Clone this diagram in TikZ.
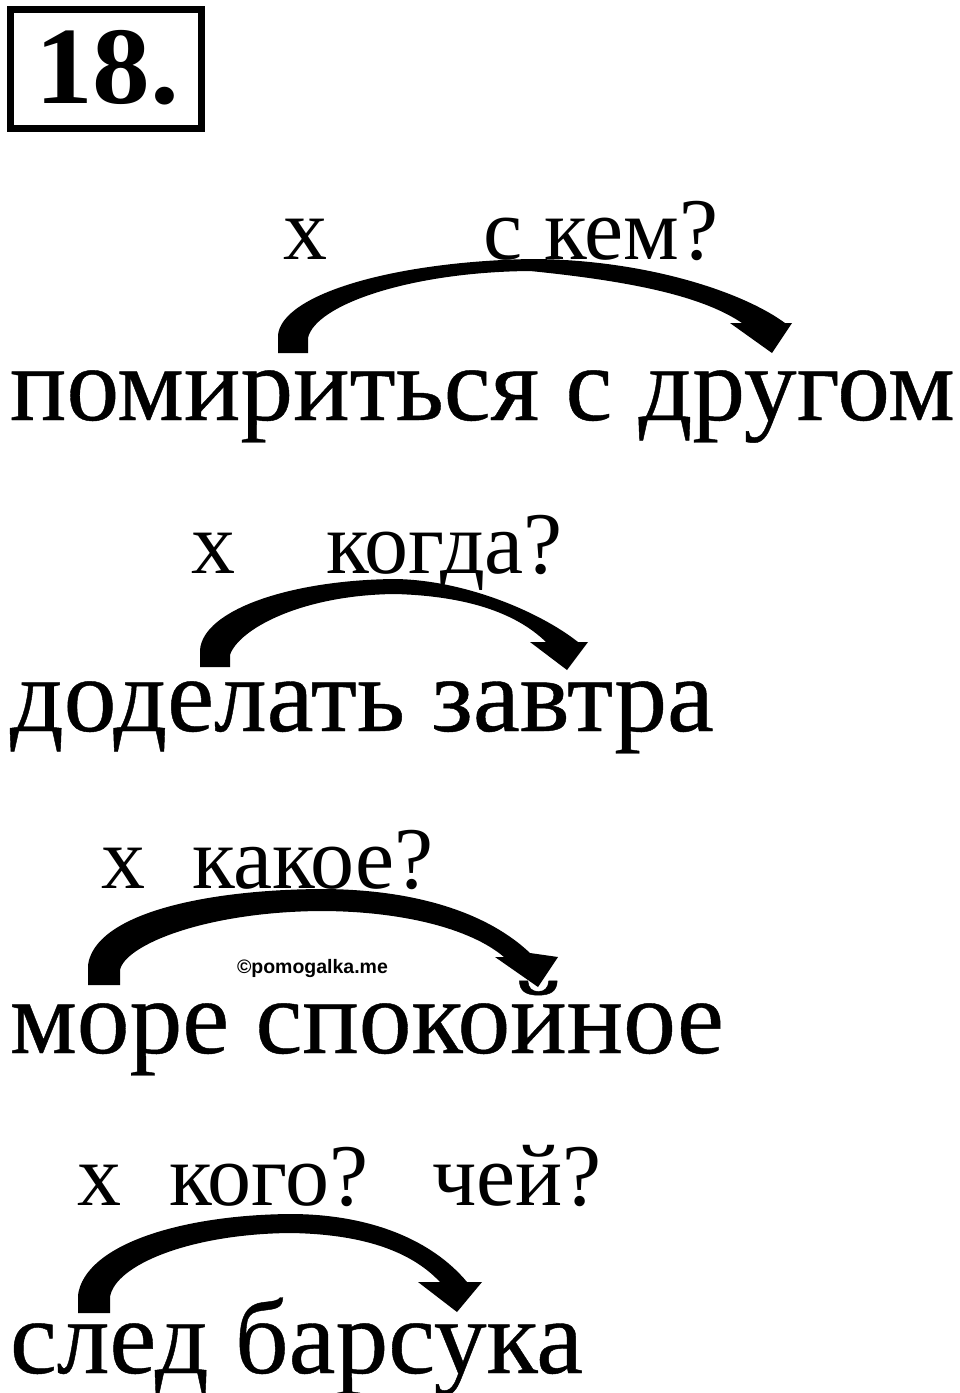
\documentclass[tikz,border=0pt]{standalone}
\usepackage{fontspec}
\setmainfont{Liberation Serif}
\newfontfamily\mainfnt[FakeBold=0.4]{Liberation Serif}
\newfontfamily\numfnt[FakeStretch=1.05]{Liberation Serif}
\newfontfamily\wmfont{Liberation Sans}
\tikzset{
  word/.style={inner sep=0pt, outer sep=0pt, anchor=base west, text height=60pt, font=\mainfnt\fontsize{105.5}{110}\selectfont},
  qlabel/.style={inner sep=0pt, outer sep=0pt, anchor=base west, font=\fontsize{88}{92}\selectfont},
  numlabel/.style={inner sep=0pt, outer sep=0pt, anchor=base west, font=\numfnt\fontsize{110}{112}\selectfont\bfseries},
  wmark/.style={inner sep=0pt, outer sep=0pt, anchor=base west, font=\wmfont\fontsize{19.5}{20}\selectfont\bfseries},
  swoosh/.style={fill=black, draw=none},
  framebox/.style={draw=black, line width=7pt}
}
\begin{document}
\begin{tikzpicture}[x=1pt,y=-1pt]
\useasboundingbox (0,0) rectangle (960,1393);
% number in a frame
\draw[framebox] (10.5,9.5) rectangle (201.5,128.5);
\node[numlabel] (num) at (35,103) {18.};
% ---------- line 1
\node[qlabel] (x1) at (283,259) {х};
\node[qlabel] (q1) at (483,259) {с кем?};
\node[word] (w1) at (10,420) {помириться с другом};
\coordinate (s1) at (293,353);
\coordinate (e1) at (772,353);
\fill[swoosh] (278,353) -- (278,335) .. controls (282,295) and (390,262) .. (530,259)
  .. controls (640,259) and (740,290) .. (785,323) -- (792,323) -- (e1) -- (730,323) -- (742,323)
  .. controls (705,298) and (640,282) .. (530,271)
  .. controls (410,272) and (315,305) .. (308,338) -- (308,353) -- cycle;
% ---------- line 2
\node[qlabel] (x2) at (191,573) {х};
\node[qlabel] (q2) at (326,573) {когда?};
\node[word] (w2) at (10,731) {доделать завтра};
\coordinate (s2) at (215,667);
\coordinate (e2) at (567,670);
\fill[swoosh] (200,667) -- (200,650) .. controls (203,610) and (290,580) .. (395,579)
  .. controls (465,580) and (540,612) .. (578,642) -- (588,642) -- (e2) -- (530,642) -- (546,642)
  .. controls (515,612) and (465,596) .. (395,594)
  .. controls (300,595) and (238,630) .. (230,655) -- (230,667) -- cycle;
% ---------- line 3
\node[qlabel] (x3) at (101,888) {х};
\node[qlabel] (q3) at (192,888) {какое?};
\node[word] (w3) at (10,1053) {море спокойное};
\node[wmark] (wm) at (237,973) {©pomogalka.me};
\coordinate (s3) at (104,985);
\coordinate (e3) at (538,987);
\fill[swoosh] (88,985) -- (88,965) .. controls (95,915) and (200,890) .. (320,889)
  .. controls (420,889) and (490,915) .. (530,953) -- (558,957) -- (e3) -- (495,957) -- (504,957)
  .. controls (470,928) and (400,911) .. (320,911)
  .. controls (205,912) and (125,945) .. (120,970) -- (120,985) -- cycle;
% ---------- line 4
\node[qlabel] (x4) at (77,1205) {х};
\node[qlabel] (q4) at (169,1205) {кого?};
\node[qlabel] (q4b) at (432,1205) {чей?};
\node[word] (w4) at (10,1373) {след барсука};
\coordinate (s4) at (94,1313);
\coordinate (e4) at (457,1312);
\fill[swoosh] (78,1313) -- (78,1295) .. controls (85,1245) and (180,1215) .. (290,1214)
  .. controls (370,1214) and (432,1240) .. (467,1282) -- (482,1282) -- (e4) -- (418,1282) -- (440,1282)
  .. controls (410,1250) and (360,1234) .. (290,1233)
  .. controls (190,1234) and (115,1265) .. (110,1297) -- (110,1313) -- cycle;
\end{tikzpicture}
\end{document}
